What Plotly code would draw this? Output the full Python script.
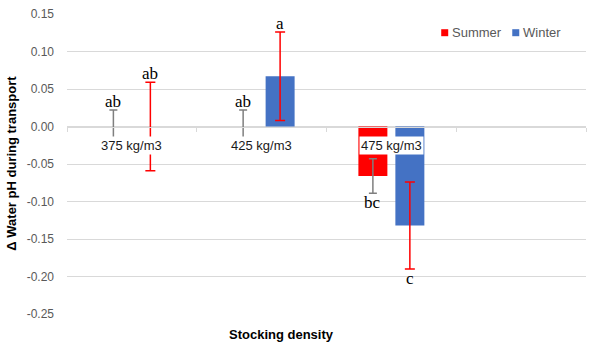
import plotly.graph_objects as go

categories = ["375 kg/m3", "425 kg/m3", "475 kg/m3", " "]
summer_vals = [0.0, 0.0, -0.066, None]
summer_err = [0.022, 0.022, 0.023, None]
winter_vals = [0.0, 0.067, -0.132, None]
winter_err = [0.059, 0.059, 0.058, None]
summer_letters = ["ab", "ab", "bc"]
winter_letters = ["ab", "a", "c"]
y_ticks = [0.15, 0.10, 0.05, 0.00, -0.05, -0.10, -0.15, -0.20, -0.25]
y_tick_text = ["0.15", "0.10", "0.05", "0.00", "-0.05", "-0.10", "-0.15", "-0.20", "-0.25"]
series_names = ["Summer", "Winter"]

RED = "#FF0000"
BLUE = "#4472C4"
GRID = "#D9D9D9"

L, T, PW, PH = 67, 14.3, 518.7, 300.0


def px(x):
    return (x - L) / PW


def py(y):
    return (T + PH - y) / PH


fig = go.Figure()
fig.add_trace(go.Bar(
    name=series_names[0], x=categories, y=summer_vals, marker=dict(color=RED, line=dict(width=0)),
    error_y=dict(type="data", array=summer_err, visible=True, color="#7F7F7F", thickness=1.5, width=4),
))
fig.add_trace(go.Bar(
    name=series_names[1], x=categories, y=winter_vals, marker=dict(color=BLUE, line=dict(width=0)),
    error_y=dict(type="data", array=winter_err, visible=True, color=RED, thickness=1.5, width=5),
))

annotations = []
letter_font = dict(family="Liberation Serif", size=17, color="#000")
for vals, errs, letters, shift in ((summer_vals, summer_err, summer_letters, -18.5),
                                   (winter_vals, winter_err, winter_letters, 18.5)):
    for i, t in enumerate(letters):
        v, e = vals[i], errs[i]
        if v >= 0:
            annotations.append(dict(x=categories[i], y=v + e, text=t, showarrow=False, xshift=shift,
                                    yanchor="bottom", yshift=-3, font=letter_font))
        else:
            annotations.append(dict(x=categories[i], y=v - e, text=t, showarrow=False, xshift=shift,
                                    yanchor="top", yshift=2, font=letter_font))

# category labels next to the zero axis
for c in categories[:3]:
    annotations.append(dict(x=c, y=0, text=c, showarrow=False, yanchor="middle", yshift=-19,
                            bgcolor="white", borderpad=1,
                            font=dict(family="Liberation Sans", size=13, color="#1a1a1a")))

# axis titles
annotations.append(dict(xref="paper", yref="paper", x=px(12), y=py(163),
                        text="<b>Δ Water pH during transport</b>", textangle=-90, showarrow=False,
                        xanchor="center", yanchor="middle",
                        font=dict(family="Liberation Sans", size=13, color="#000")))
annotations.append(dict(xref="paper", yref="paper", x=px(281.7), y=py(335),
                        text="<b>Stocking density</b>", showarrow=False,
                        xanchor="center", yanchor="middle",
                        font=dict(family="Liberation Sans", size=13, color="#000")))

# legend (Excel-style small squares)
shapes = []
for name, color, sx in ((series_names[0], RED, 441), (series_names[1], BLUE, 512)):
    shapes.append(dict(type="rect", xref="paper", yref="paper",
                       x0=px(sx), x1=px(sx + 7), y0=py(36.5), y1=py(29.5),
                       fillcolor=color, line=dict(width=0)))
    annotations.append(dict(xref="paper", yref="paper", x=px(sx + 9), y=py(33), text=name,
                            showarrow=False, xanchor="left", yanchor="middle",
                            font=dict(family="Liberation Sans", size=13, color="#595959")))

fig.update_layout(
    width=590, height=352,
    margin=dict(l=67, r=4, t=14, b=38, autoexpand=False),
    paper_bgcolor="white", plot_bgcolor="white",
    barmode="group", bargap=0.43, bargroupgap=0.216,
    font=dict(family="Liberation Sans", size=12, color="#595959"),
    showlegend=False,
    annotations=annotations,
    shapes=shapes,
    xaxis=dict(type="category", range=[-0.5, 3.5], showgrid=False, showticklabels=False,
               anchor="free", position=0.625, showline=True, linecolor=GRID, linewidth=1,
               ticks="outside", tickson="boundaries", ticklen=4, tickcolor=GRID, zeroline=False),
    yaxis=dict(range=[-0.25, 0.15], tickvals=y_ticks, ticktext=y_tick_text,
               showgrid=True, gridcolor=GRID, gridwidth=1, zeroline=False, showline=False,
               ticklabelstandoff=12, tickfont=dict(size=12, color="#595959")),
)

fig.write_html("out.html")
